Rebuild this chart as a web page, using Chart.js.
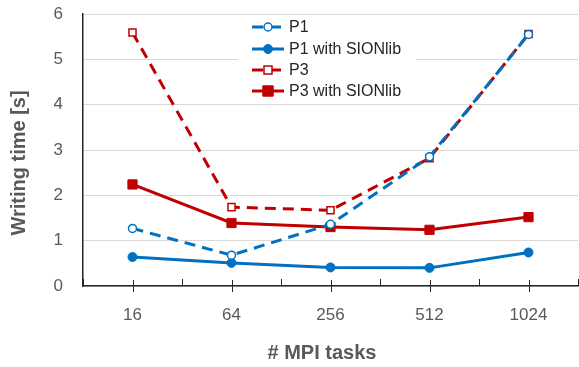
<!DOCTYPE html>
<html lang="en">
<head>
  <meta charset="UTF-8">
  <title>Writing time vs MPI tasks</title>
  <style>
    html, body { margin: 0; padding: 0; background: #fff; }
    .chart-container { position: relative; width: 579px; height: 367px; }
  </style>
</head>
<body>
  <div class="chart-container">
    <canvas id="writingChart" width="579" height="367"></canvas>
  </div>

  <script src="https://cdn.jsdelivr.net/npm/chart.js"></script>
  <script>
    // datos
    const tasks = ['16', '64', '256', '512', '1024'];
    const p1 = [1.27, 0.68, 1.36, 2.85, 5.55];
    const p1Sion = [0.64, 0.51, 0.41, 0.40, 0.74];
    const p3 = [5.59, 1.74, 1.67, 2.82, 5.56];
    const p3Sion = [2.24, 1.39, 1.30, 1.24, 1.52];
    const yTicks = [0, 1, 2, 3, 4, 5, 6];
    const xTitle = '# MPI tasks';
    const yTitle = 'Writing time [s]';

    const blue = '#0070C0';
    const red = '#C00000';
    const gray = '#595959';
    const fontFam = "'Liberation Sans', Arial, sans-serif";

    // leyenda dibujada a mano, dentro del area del grafico
    const legendPlugin = {
      id: 'boxLegend',
      afterDraw(chart) {
        const ctx = chart.ctx;
        ctx.save();
        ctx.fillStyle = '#fff';
        ctx.fillRect(238, 16, 178, 88);
        const rows = [27, 49, 70, 91];
        chart.data.datasets.forEach(function(ds, i) {
          const y = rows[i];
          ctx.strokeStyle = ds.borderColor;
          ctx.lineWidth = 3;
          ctx.setLineDash(ds.borderDash || []);
          ctx.beginPath();
          ctx.moveTo(252, y);
          ctx.lineTo(284, y);
          ctx.stroke();
          ctx.setLineDash([]);
          ctx.lineWidth = ds.pointBorderWidth;
          ctx.fillStyle = ds.pointBackgroundColor;
          const r = ds.pointRadius;
          ctx.beginPath();
          if (ds.pointStyle === 'rect') {
            ctx.rect(268 - r * 0.8, y - r * 0.8, r * 1.6, r * 1.6);
          } else {
            ctx.arc(268, y, r, 0, Math.PI * 2);
          }
          ctx.fill();
          ctx.stroke();
          ctx.fillStyle = '#262626';
          ctx.font = '16px ' + fontFam;
          ctx.textBaseline = 'middle';
          ctx.textAlign = 'left';
          ctx.fillText(ds.label, 289, y + 1);
        });
        ctx.restore();
      }
    };

    // titulos de los ejes (el del eje y va algo por debajo del centro, como en el original)
    const titlePlugin = {
      id: 'axisTitles',
      afterDraw(chart) {
        const ctx = chart.ctx;
        ctx.save();
        ctx.fillStyle = gray;
        ctx.font = 'bold 20px ' + fontFam;
        ctx.textAlign = 'center';
        ctx.textBaseline = 'middle';
        ctx.fillText(xTitle, 322, 353);
        ctx.translate(19, 163);
        ctx.rotate(-Math.PI / 2);
        ctx.fillText(yTitle, 0, 0);
        ctx.restore();
      }
    };

    // marcas cortas del eje x (arriba en los limites, cruzando en las categorias)
    const tickPlugin = {
      id: 'axisTicks',
      afterDraw(chart) {
        const x = chart.scales.x;
        const ctx = chart.ctx;
        ctx.save();
        ctx.strokeStyle = '#262626';
        ctx.lineWidth = 1;
        for (let i = 0; i <= tasks.length; i++) {
          const px = Math.round(x.getPixelForValue(i - 0.5)) + 0.5;
          ctx.beginPath();
          ctx.moveTo(px, x.top);
          ctx.lineTo(px, x.top - 7);
          ctx.stroke();
        }
        for (let i = 0; i < tasks.length; i++) {
          const px = Math.round(x.getPixelForValue(i)) + 0.5;
          ctx.beginPath();
          ctx.moveTo(px, x.top + 6);
          ctx.lineTo(px, x.top - 6);
          ctx.stroke();
        }
        ctx.restore();
      }
    };

    const ctx = document.getElementById('writingChart').getContext('2d');
    const writingChart = new Chart(ctx, {
      type: 'line',
      data: {
        labels: tasks,
        datasets: [{
          label: 'P1',
          data: p1,
          borderColor: blue,
          borderWidth: 3,
          borderDash: [11, 7],
          pointStyle: 'circle',
          pointRadius: 4,
          pointBackgroundColor: '#fff',
          pointBorderColor: blue,
          pointBorderWidth: 1.5,
          tension: 0
        }, {
          label: 'P1 with SIONlib',
          data: p1Sion,
          borderColor: blue,
          borderWidth: 3,
          pointStyle: 'circle',
          pointRadius: 4.5,
          pointBackgroundColor: blue,
          pointBorderColor: blue,
          pointBorderWidth: 1,
          tension: 0
        }, {
          label: 'P3',
          data: p3,
          borderColor: red,
          borderWidth: 3,
          borderDash: [11, 7],
          pointStyle: 'rect',
          pointRadius: 5,
          pointBackgroundColor: '#fff',
          pointBorderColor: red,
          pointBorderWidth: 1.5,
          tension: 0
        }, {
          label: 'P3 with SIONlib',
          data: p3Sion,
          borderColor: red,
          borderWidth: 3,
          pointStyle: 'rect',
          pointRadius: 6.5,
          pointBackgroundColor: red,
          pointBorderColor: red,
          pointBorderWidth: 1,
          tension: 0
        }]
      },
      options: {
        responsive: false,
        animation: false,
        layout: { autoPadding: false, padding: { top: 14, right: 1, left: 0, bottom: 0 } },
        plugins: {
          legend: { display: false },
          tooltip: { enabled: false }
        },
        scales: {
          x: {
            offset: true,
            afterFit: function(scale) {
              scale.height = 81;
              scale.paddingLeft = 0;
              scale.paddingRight = 0;
            },
            grid: {
              display: true,
              offset: false,
              drawOnChartArea: false,
              tickLength: 19,
              tickColor: 'rgba(0,0,0,0)'
            },
            border: { color: '#262626', width: 1.5 },
            ticks: {
              color: gray,
              padding: 0,
              font: { family: fontFam, size: 17 }
            }
          },
          y: {
            min: 0,
            max: 6,
            afterFit: function(scale) {
              scale.width = 83;
              scale.paddingTop = 0;
              scale.paddingBottom = 0;
            },
            afterBuildTicks: function(scale) {
              scale.ticks = yTicks.map(function(v) { return { value: v }; });
            },
            grid: {
              color: '#d9d9d9',
              lineWidth: 1,
              drawTicks: true,
              tickLength: 20,
              tickColor: 'rgba(0,0,0,0)'
            },
            border: { color: '#262626', width: 1.5 },
            ticks: {
              color: gray,
              padding: 0,
              font: { family: fontFam, size: 17 }
            }
          }
        }
      },
      plugins: [legendPlugin, titlePlugin, tickPlugin]
    });
  </script>
</body>
</html>
